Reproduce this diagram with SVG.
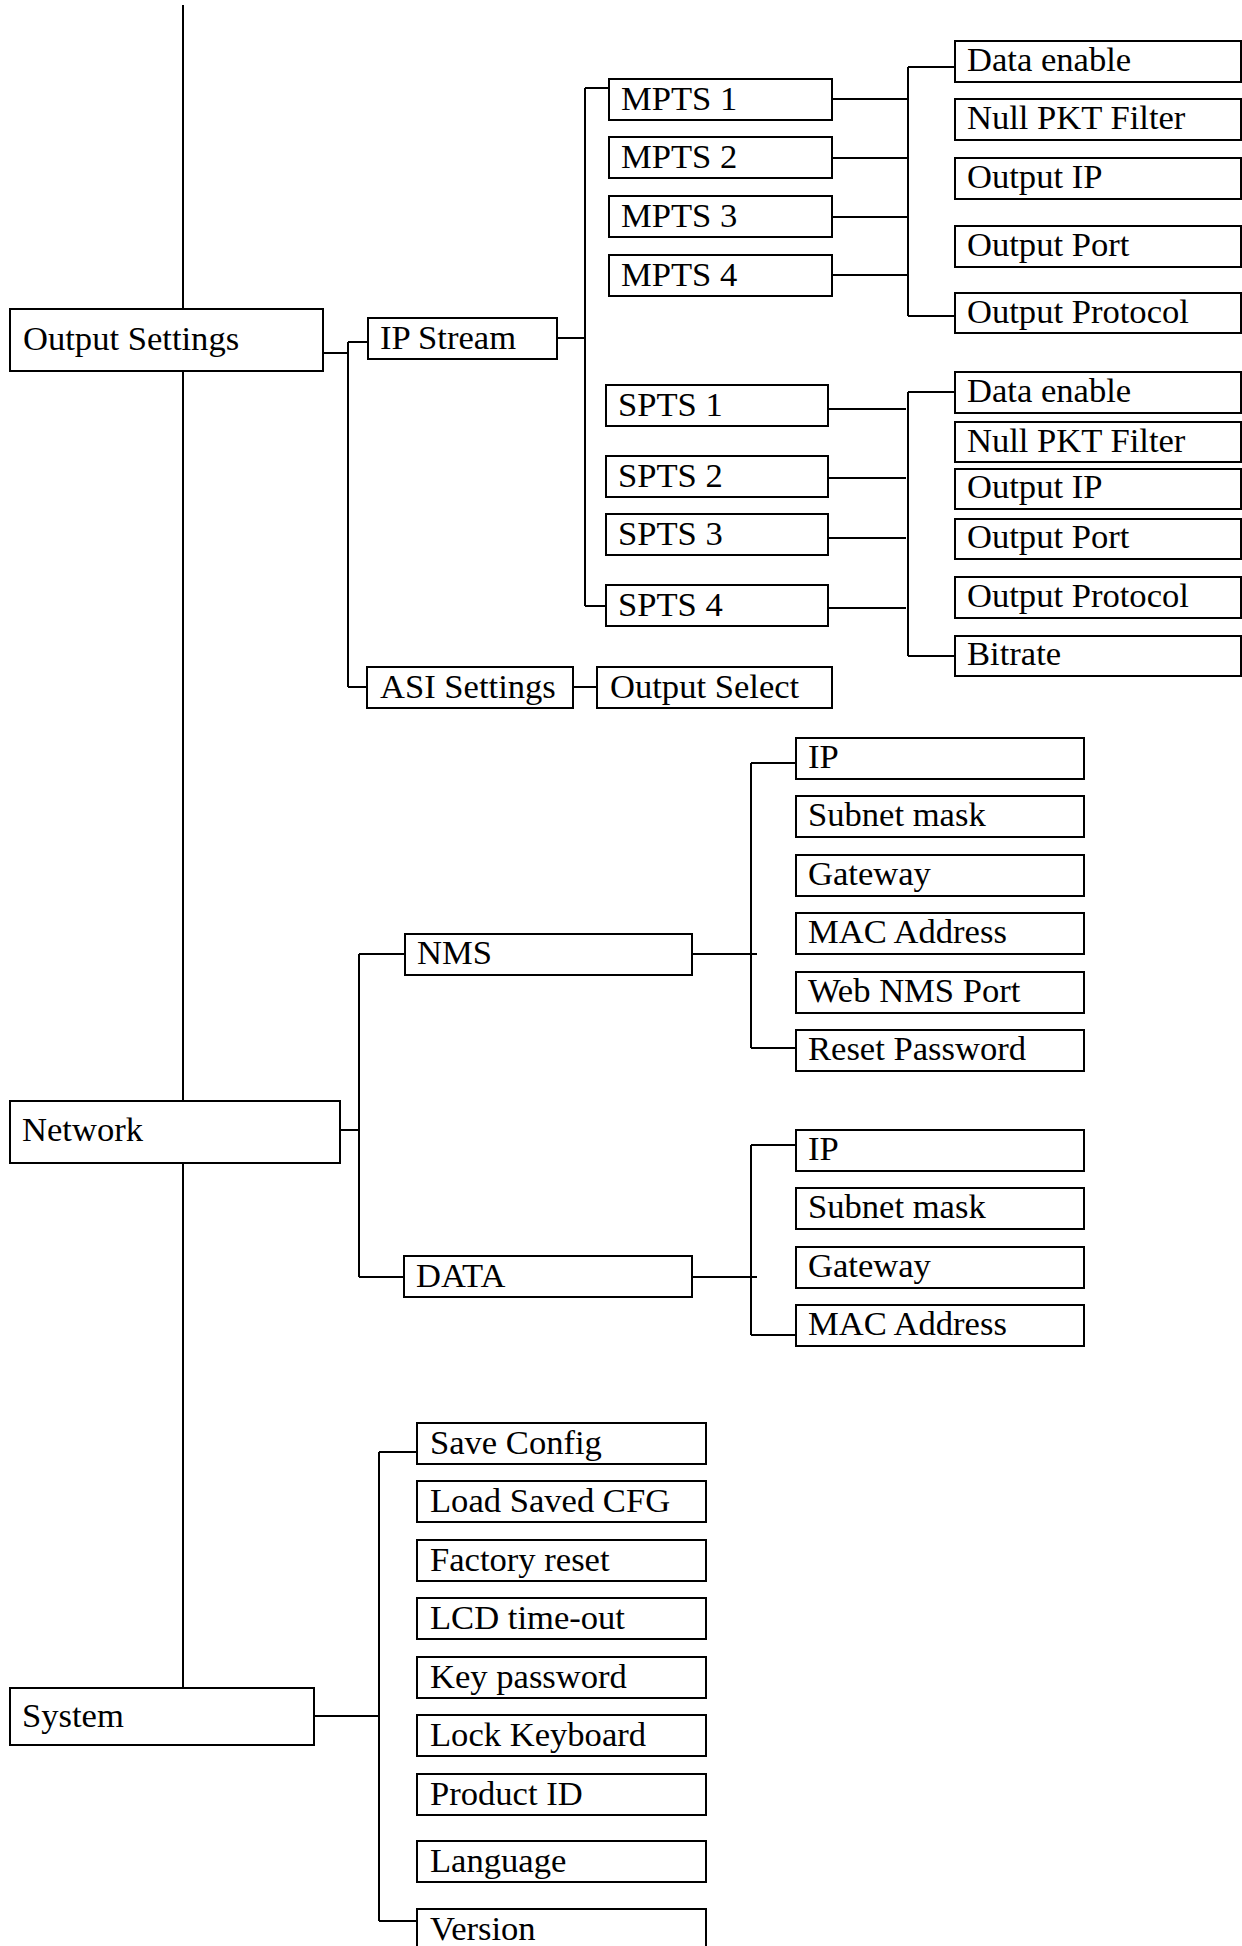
<svg xmlns="http://www.w3.org/2000/svg" width="1242" height="1946" viewBox="0 0 1242 1946">
<style>
  .b { fill: #fff; stroke: #000; stroke-width: 2; }
  .t { font-family: "Liberation Serif", "Times New Roman", serif; font-size: 34.6px; fill: #000; }
  .c { fill: none; stroke: #000; stroke-width: 2; }
</style>
<rect width="1242" height="1946" fill="#fff"/>
<g id="connectors">
  <path class="c" d="M183,5 V1688"/>
  <path class="c" d="M323,353 H348 M348,342 V687 M348,342 H368 M348,687 H367"/>
  <path class="c" d="M557,338 H585 M585,88 V606 M585,88 H609 M585,606 H606"/>
  <path class="c" d="M832,99 H908 M832,158 H908 M832,217 H908 M832,275 H908 M908,67 V316 M908,67 H955 M908,316 H955"/>
  <path class="c" d="M828,409 H906 M828,478 H906 M828,538 H906 M828,608 H906 M908,392 V656 M908,392 H955 M908,656 H955"/>
  <path class="c" d="M573,687 H597"/>
  <path class="c" d="M340,1130 H359 M359,954 V1277 M359,954 H405 M359,1277 H404"/>
  <path class="c" d="M692,954 H757 M751,763 V1048 M751,763 H796 M751,1048 H796"/>
  <path class="c" d="M692,1277 H757 M751,1145 V1335 M751,1145 H796 M751,1335 H796"/>
  <path class="c" d="M314,1716 H379 M379,1452 V1921 M379,1452 H417 M379,1921 H417"/>
</g>
<g id="output-settings"><rect class="b" x="10" y="309" width="313" height="62"/><text class="t" x="23" y="350">Output Settings</text></g>
<g id="ip-stream"><rect class="b" x="368" y="318" width="189" height="41"/><text class="t" x="380" y="349">IP Stream</text></g>
<g id="mpts1"><rect class="b" x="609" y="79" width="223" height="41"/><text class="t" x="621" y="110">MPTS 1</text></g>
<g id="mpts2"><rect class="b" x="609" y="137" width="223" height="41"/><text class="t" x="621" y="168">MPTS 2</text></g>
<g id="mpts3"><rect class="b" x="609" y="196" width="223" height="41"/><text class="t" x="621" y="227">MPTS 3</text></g>
<g id="mpts4"><rect class="b" x="609" y="255" width="223" height="41"/><text class="t" x="621" y="286">MPTS 4</text></g>
<g id="m-data-enable"><rect class="b" x="955" y="41" width="286" height="41"/><text class="t" x="967" y="71">Data enable</text></g>
<g id="m-null-pkt"><rect class="b" x="955" y="99" width="286" height="41"/><text class="t" x="967" y="129">Null PKT Filter</text></g>
<g id="m-output-ip"><rect class="b" x="955" y="158" width="286" height="41"/><text class="t" x="967" y="188">Output IP</text></g>
<g id="m-output-port"><rect class="b" x="955" y="226" width="286" height="41"/><text class="t" x="967" y="256">Output Port</text></g>
<g id="m-output-protocol"><rect class="b" x="955" y="293" width="286" height="40"/><text class="t" x="967" y="323">Output Protocol</text></g>
<g id="spts1"><rect class="b" x="606" y="385" width="222" height="41"/><text class="t" x="618" y="416">SPTS 1</text></g>
<g id="spts2"><rect class="b" x="606" y="456" width="222" height="41"/><text class="t" x="618" y="487">SPTS 2</text></g>
<g id="spts3"><rect class="b" x="606" y="514" width="222" height="41"/><text class="t" x="618" y="545">SPTS 3</text></g>
<g id="spts4"><rect class="b" x="606" y="585" width="222" height="41"/><text class="t" x="618" y="616">SPTS 4</text></g>
<g id="s-data-enable"><rect class="b" x="955" y="372" width="286" height="41"/><text class="t" x="967" y="402">Data enable</text></g>
<g id="s-null-pkt"><rect class="b" x="955" y="422" width="286" height="40"/><text class="t" x="967" y="452">Null PKT Filter</text></g>
<g id="s-output-ip"><rect class="b" x="955" y="469" width="286" height="40"/><text class="t" x="967" y="498">Output IP</text></g>
<g id="s-output-port"><rect class="b" x="955" y="519" width="286" height="40"/><text class="t" x="967" y="548">Output Port</text></g>
<g id="s-output-protocol"><rect class="b" x="955" y="577" width="286" height="41"/><text class="t" x="967" y="607">Output Protocol</text></g>
<g id="s-bitrate"><rect class="b" x="955" y="636" width="286" height="40"/><text class="t" x="967" y="665">Bitrate</text></g>
<g id="asi-settings"><rect class="b" x="367" y="667" width="206" height="41"/><text class="t" x="380" y="698">ASI Settings</text></g>
<g id="output-select"><rect class="b" x="597" y="667" width="235" height="41"/><text class="t" x="610" y="698">Output Select</text></g>
<g id="network"><rect class="b" x="10" y="1101" width="330" height="62"/><text class="t" x="22" y="1141">Network</text></g>
<g id="nms"><rect class="b" x="405" y="934" width="287" height="41"/><text class="t" x="417" y="964">NMS</text></g>
<g id="nms-ip"><rect class="b" x="796" y="738" width="288" height="41"/><text class="t" x="808" y="768">IP</text></g>
<g id="nms-subnet"><rect class="b" x="796" y="796" width="288" height="41"/><text class="t" x="808" y="826">Subnet mask</text></g>
<g id="nms-gateway"><rect class="b" x="796" y="855" width="288" height="41"/><text class="t" x="808" y="885">Gateway</text></g>
<g id="nms-mac"><rect class="b" x="796" y="913" width="288" height="41"/><text class="t" x="808" y="943">MAC Address</text></g>
<g id="nms-web-port"><rect class="b" x="796" y="972" width="288" height="41"/><text class="t" x="808" y="1002">Web NMS Port</text></g>
<g id="nms-reset-password"><rect class="b" x="796" y="1030" width="288" height="41"/><text class="t" x="808" y="1060">Reset Password</text></g>
<g id="data"><rect class="b" x="404" y="1256" width="288" height="41"/><text class="t" x="416" y="1287">DATA</text></g>
<g id="data-ip"><rect class="b" x="796" y="1130" width="288" height="41"/><text class="t" x="808" y="1160">IP</text></g>
<g id="data-subnet"><rect class="b" x="796" y="1188" width="288" height="41"/><text class="t" x="808" y="1218">Subnet mask</text></g>
<g id="data-gateway"><rect class="b" x="796" y="1247" width="288" height="41"/><text class="t" x="808" y="1277">Gateway</text></g>
<g id="data-mac"><rect class="b" x="796" y="1305" width="288" height="41"/><text class="t" x="808" y="1335">MAC Address</text></g>
<g id="system"><rect class="b" x="10" y="1688" width="304" height="57"/><text class="t" x="22" y="1727">System</text></g>
<g id="save-config"><rect class="b" x="417" y="1423" width="289" height="41"/><text class="t" x="430" y="1454">Save Config</text></g>
<g id="load-saved-cfg"><rect class="b" x="417" y="1481" width="289" height="41"/><text class="t" x="430" y="1512">Load Saved CFG</text></g>
<g id="factory-reset"><rect class="b" x="417" y="1540" width="289" height="41"/><text class="t" x="430" y="1571">Factory reset</text></g>
<g id="lcd-timeout"><rect class="b" x="417" y="1598" width="289" height="41"/><text class="t" x="430" y="1629">LCD time-out</text></g>
<g id="key-password"><rect class="b" x="417" y="1657" width="289" height="41"/><text class="t" x="430" y="1688">Key password</text></g>
<g id="lock-keyboard"><rect class="b" x="417" y="1715" width="289" height="41"/><text class="t" x="430" y="1746">Lock Keyboard</text></g>
<g id="product-id"><rect class="b" x="417" y="1774" width="289" height="41"/><text class="t" x="430" y="1805">Product ID</text></g>
<g id="language"><rect class="b" x="417" y="1841" width="289" height="41"/><text class="t" x="430" y="1872">Language</text></g>
<g id="version"><rect class="b" x="417" y="1909" width="289" height="50"/><text class="t" x="430" y="1940">Version</text></g>
</svg>
